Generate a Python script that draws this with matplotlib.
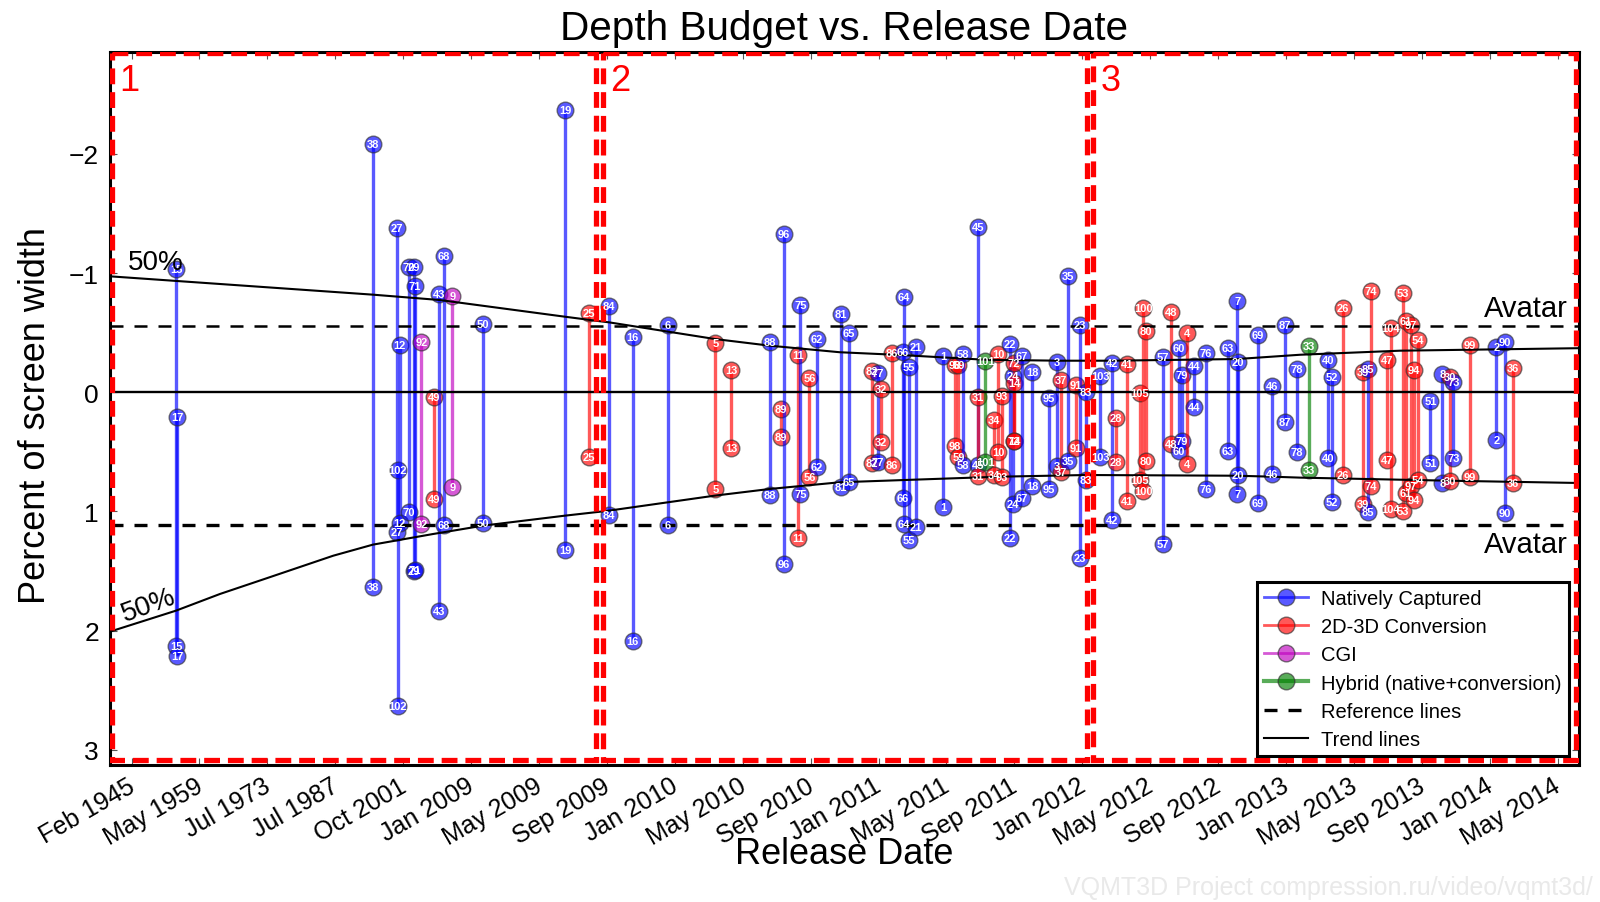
import matplotlib
matplotlib.use("Agg")
import matplotlib.pyplot as plt
from matplotlib.lines import Line2D
from matplotlib.patches import Rectangle
from matplotlib.transforms import ScaledTranslation

plt.rcParams["font.family"] = ["Liberation Sans", "DejaVu Sans"]

W, H = 1600, 903

tick_labels = ["Feb 1945", "May 1959", "Jul 1973", "Jul 1987", "Oct 2001", "Jan 2009",
               "May 2009", "Sep 2009", "Jan 2010", "May 2010", "Sep 2010", "Jan 2011",
               "May 2011", "Sep 2011", "Jan 2012", "May 2012", "Sep 2012", "Jan 2013",
               "May 2013", "Sep 2013", "Jan 2014", "May 2014"]

# x is the position on the date axis, one unit per tick label
native_ids = [15, 17, 38, 27, 12, 102, 70, 29, 71, 43, 68, 50, 19, 84, 16, 6, 88, 96, 75, 62,
              81, 65, 77, 64, 66, 55, 21, 1, 58, 45, 22, 24, 67, 18, 95, 3, 35, 23, 83, 103,
              42, 57, 60, 79, 44, 76, 63, 20, 7, 69, 46, 87, 78, 40, 52, 85, 51, 8, 73, 2, 90]
native_x = [0.654, 0.668, 3.555, 3.909, 3.948, 3.923, 4.085, 4.159, 4.174, 4.532, 4.596, 5.180,
            6.383, 7.035, 7.380, 7.895, 9.406, 9.604, 9.848, 10.094, 10.443, 10.561, 10.993,
            11.371, 11.361, 11.449, 11.552, 11.950, 12.240, 12.461, 12.941, 12.985, 13.113,
            13.265, 13.515, 13.633, 13.791, 13.967, 14.056, 14.267, 14.439, 15.194, 15.426,
            15.470, 15.651, 15.823, 16.143, 16.290, 16.284, 16.585, 16.795, 16.987, 17.164,
            17.624, 17.679, 18.205, 19.127, 19.303, 19.466, 20.099, 20.227]
native_near = [-1.032, 0.21, -2.083, -1.375, -0.394, 0.649, -1.051, -1.051, -0.892, -0.825,
               -1.143, -0.573, -2.368, -0.727, -0.466, -0.567, -0.419, -1.331, -0.735, -0.450,
               -0.659, -0.497, -0.162, -0.797, -0.338, -0.210, -0.380, -0.305, -0.321, -1.387,
               -0.403, -0.139, -0.305, -0.173, 0.050, -0.257, -0.978, -0.567, 0.0, -0.139,
               -0.243, -0.299, -0.369, -0.148, -0.223, -0.330, -0.374, -0.257, -0.768, -0.481,
               -0.055, -0.565, -0.198, -0.273, -0.126, -0.193, 0.073, -0.151, -0.084, -0.383,
               -0.419]
native_far = [2.131, 2.212, 1.636, 1.174, 1.099, 2.629, 1.002, 1.497, 1.488, 1.835, 1.111, 1.099,
              1.323, 1.029, 2.086, 1.111, 0.864, 1.443, 0.851, 0.624, 0.792, 0.755, 0.587, 1.102,
              0.889, 1.242, 1.133, 0.962, 0.610, 0.607, 1.225, 0.937, 0.884, 0.786, 0.811, 0.616,
              0.576, 1.393, 0.736, 0.540, 1.071, 1.273, 0.495, 0.406, 0.123, 0.811, 0.492, 0.696,
              0.856, 0.929, 0.688, 0.249, 0.501, 0.554, 0.923, 1.007, 0.593, 0.761, 0.549, 0.403,
              1.015]

conv_ids = [49, 25, 5, 13, 89, 11, 56, 82, 32, 86, 98, 59, 31, 34, 10, 93, 14, 72, 37, 91, 28,
            41, 105, 100, 80, 48, 4, 26, 39, 74, 47, 104, 53, 61, 97, 94, 54, 30, 99, 36]
conv_x = [4.449, 6.741, 8.596, 8.832, 9.568, 9.814, 9.981, 10.909, 11.033, 11.199, 12.127, 12.175,
          12.470, 12.701, 12.764, 12.819, 13.000, 12.996, 13.683, 13.904, 14.498, 14.655, 14.851,
          14.900, 14.944, 15.308, 15.544, 17.845, 18.140, 18.249, 18.494, 18.548, 18.725, 18.769,
          18.842, 18.882, 18.941, 19.421, 19.707, 20.340]
conv_near = [0.039, -0.665, -0.414, -0.187, 0.140, -0.313, -0.120, -0.176, -0.028, -0.332, -0.229,
             -0.229, 0.037, 0.232, -0.321, 0.034, -0.081, -0.243, -0.103, -0.064, 0.216, -0.237,
             0.006, -0.710, -0.512, -0.676, -0.497, -0.705, -0.168, -0.847, -0.273, -0.537, -0.833,
             -0.598, -0.567, -0.187, -0.441, -0.126, -0.399, -0.204]
conv_far = [0.893, 0.540, 0.814, 0.465, 0.372, 1.225, 0.711, 0.596, 0.417, 0.607, 0.448, 0.545,
            0.702, 0.694, 0.503, 0.711, 0.409, 0.409, 0.669, 0.470, 0.587, 0.914, 0.736, 0.828,
            0.574, 0.434, 0.604, 0.696, 0.937, 0.789, 0.568, 0.982, 0.998, 0.845, 0.786, 0.901,
            0.733, 0.742, 0.713, 0.763]

cgi_ids = [92, 9]
cgi_x = [4.267, 4.723]
cgi_near = [-0.422, -0.808]
cgi_far = [1.105, 0.794]

hybrid_ids = [101, 33]
hybrid_x = [12.573, 17.336]
hybrid_near = [-0.265, -0.391]
hybrid_far = [0.585, 0.652]

avatar_near = -0.555
avatar_far = 1.111

trend_near_x = [-0.318, 3.555, 4.541, 6.383, 6.898, 7.03, 8.59, 9.40, 10.43, 11.32, 12.57, 13.67,
                14.44, 16.28, 17.21, 18.68, 21.32]
trend_near_y = [-0.973, -0.819, -0.774, -0.634, -0.596, -0.587, -0.447, -0.391, -0.336, -0.313,
                -0.273, -0.265, -0.265, -0.279, -0.315, -0.349, -0.37]
trend_far_x = [-0.318, 0.654, 1.302, 1.99, 2.97, 3.555, 4.44, 5.175, 6.383, 6.898, 7.03, 8.59, 9.40,
               10.43, 12.79, 14.06, 16.28, 16.79, 17.21, 19.42, 21.32]
trend_far_y = [2.008, 1.832, 1.692, 1.56, 1.371, 1.278, 1.189, 1.119, 1.035, 1.002, 0.993, 0.867,
               0.811, 0.755, 0.708, 0.694, 0.70, 0.708, 0.716, 0.742, 0.761]

region_names = ["1", "2", "3"]
region_edges = [(-0.289, 6.84), (6.94, 14.07), (14.16, 21.27)]

blue = (0, 0, 1)
red = (1, 0, 0)
purple = (0.75, 0, 0.75)
green = (0, 0.5, 0)

films = []
for ids, xs, near, far, col in [(native_ids, native_x, native_near, native_far, blue),
                                (conv_ids, conv_x, conv_near, conv_far, red),
                                (cgi_ids, cgi_x, cgi_near, cgi_far, purple),
                                (hybrid_ids, hybrid_x, hybrid_near, hybrid_far, green)]:
    for i in range(len(ids)):
        films.append((xs[i], ids[i], near[i], far[i], col))
films.sort(key=lambda f: f[0])

fig = plt.figure(figsize=(W / 100, H / 100), dpi=100)
ax = fig.add_axes([110 / W, 1 - 766 / H, 1469 / W, 713 / H])

for x, num, near, far, col in films:
    ax.plot([x, x], [near, far], color=col, alpha=0.65, lw=2.4, zorder=2,
            marker="o", ms=12, mfc=col, mec="#333333", mew=1.0, solid_capstyle="butt")
    for y in (near, far):
        ax.text(x, y, str(num), color="white", fontsize=8, fontweight="bold",
                ha="center", va="center", zorder=5)

ax.axhline(0, color="black", lw=1.7, zorder=3)
ax.axhline(avatar_near, color="black", lw=1.8, ls=(0, (5.2, 4.4)), zorder=3)
ax.axhline(avatar_far, color="black", lw=2.4, ls=(0, (3.9, 3.3)), zorder=3)
ax.plot(trend_near_x, trend_near_y, color="black", lw=1.5, zorder=3)
ax.plot(trend_far_x, trend_far_y, color="black", lw=1.5, zorder=3)

ax.set_xlim(-0.318, 21.316)
ax.set_ylim(3.127, -2.855)

for name, (x0, x1) in zip(region_names, region_edges):
    ax.add_patch(Rectangle((x0, -2.846), x1 - x0, 5.931, fill=False, ec="#ff0000", lw=3.8,
                           ls=(0, (3.0, 1.5)), zorder=4))
    ax.text(x0 + 0.11, -2.62, name, color="#ff0000", fontsize=26, ha="left", va="center", zorder=6)

ax.text(-0.05, -1.09, "50%", fontsize=20, ha="left", va="center", zorder=6)
ax.text(-0.20, 1.78, "50%", fontsize=20, rotation=20, ha="left", va="center", zorder=6)
ax.text(20.53, -0.71, "Avatar", fontsize=21, ha="center", va="center", zorder=6)
ax.text(20.53, 1.27, "Avatar", fontsize=21, ha="center", va="center", zorder=6)

ax.set_xticks(range(len(tick_labels)))
ax.set_xticklabels(tick_labels, rotation=30, ha="right", rotation_mode="anchor")
ax.set_yticks([-2, -1, 0, 1, 2, 3])
ax.set_yticklabels(["\u22122", "\u22121", "0", "1", "2", "3"])
ax.tick_params(axis="both", direction="in", length=5, width=0.8, color="#555555",
               top=True, right=True, labelsize=19, pad=8)
ax.tick_params(axis="x", labelsize=18, pad=6)
# the date labels sit a little left of their ticks in the original
shift = ScaledTranslation(-5 / 100, 0, fig.dpi_scale_trans)
for lab in ax.get_xticklabels():
    lab.set_transform(lab.get_transform() + shift)
for s in ax.spines.values():
    s.set_linewidth(2.2)

ax.set_title("Depth Budget vs. Release Date", fontsize=29.2, pad=9)
ax.set_xlabel("Release Date", fontsize=26, labelpad=4)
ax.xaxis.set_label_coords(0.5, -0.1)
ax.set_ylabel("Percent of screen width", fontsize=26)
ax.yaxis.set_label_coords(-0.0388, 0.492)

handles = [
    Line2D([], [], color=blue, alpha=0.65, lw=2, marker="o", ms=12, mec="#333333", label="Natively Captured"),
    Line2D([], [], color=red, alpha=0.65, lw=2, marker="o", ms=12, mec="#333333", label="2D-3D Conversion"),
    Line2D([], [], color=purple, alpha=0.65, lw=2, marker="o", ms=12, mec="#333333", label="CGI"),
    Line2D([], [], color=green, alpha=0.65, lw=3, marker="o", ms=12, mec="#333333", label="Hybrid (native+conversion)"),
    Line2D([], [], color="black", lw=2.4, ls=(0, (3.9, 3.3)), label="Reference lines"),
    Line2D([], [], color="black", lw=1.5, label="Trend lines"),
]
leg = ax.legend(handles=handles, loc="lower right", bbox_to_anchor=(0.9932, 0.0125), borderaxespad=0,
                fontsize=14.5, fancybox=False, framealpha=1, edgecolor="black", handlelength=2.2,
                handletextpad=0.65, labelspacing=0.46, borderpad=0.35)
leg.get_frame().set_linewidth(2.2)
leg.set_zorder(10)

fig.text(1064 / W, 1 - 888 / H, "VQMT3D Project compression.ru/video/vqmt3d/", color="#e9e9e9",
         fontsize=18, ha="left", va="center")

fig.savefig("out.png", dpi=100)
